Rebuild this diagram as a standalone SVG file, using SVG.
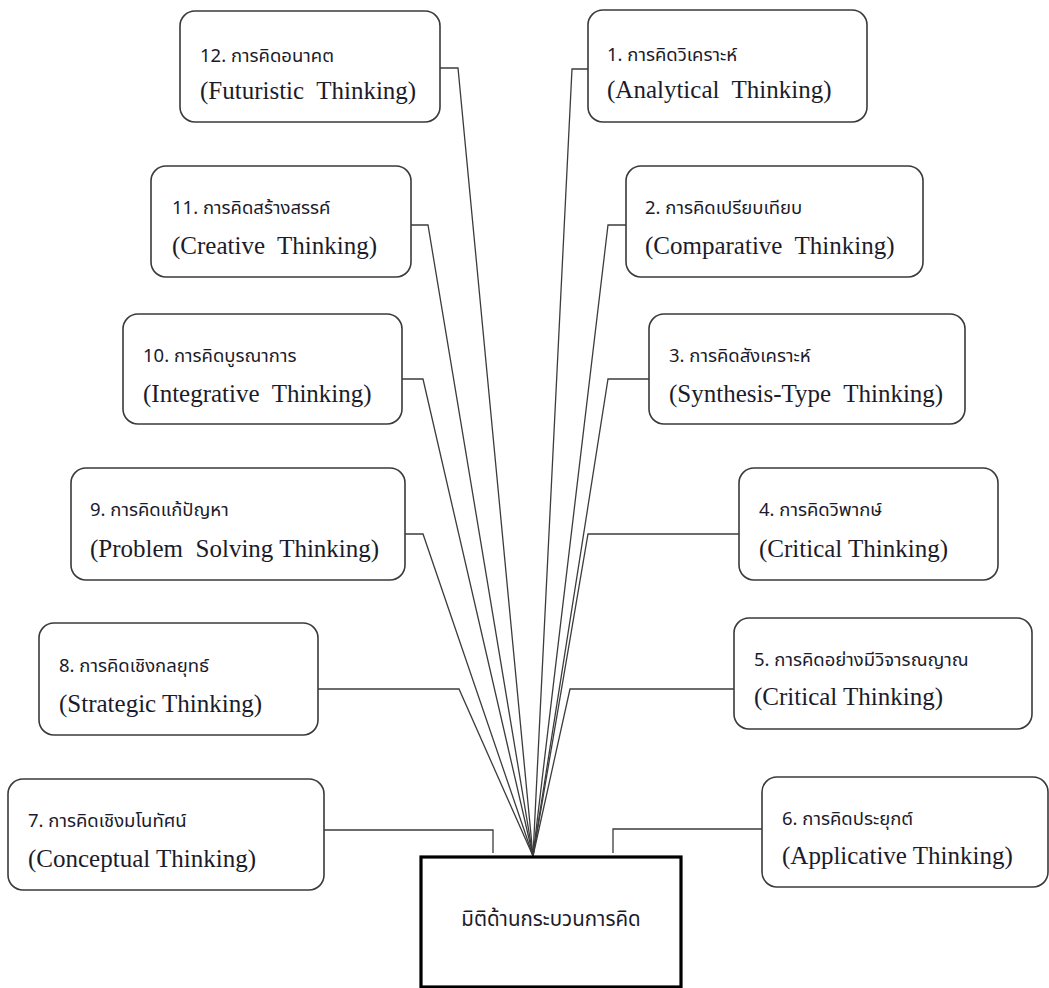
<svg xmlns="http://www.w3.org/2000/svg" width="1049" height="988" viewBox="0 0 1049 988">
<style>
.box{fill:#fff;stroke:#3a3a3a;stroke-width:1.6}
.main{fill:#fff;stroke:#000;stroke-width:3.2}
.th{font-family:"Noto Sans Thai","Noto Serif Thai","Liberation Serif","DejaVu Sans",sans-serif;font-size:18.5px;fill:#1b1b2b}
.en{font-family:"Liberation Serif","Times New Roman",serif;font-size:25px;fill:#1b1b2b;white-space:pre}
.con{fill:none;stroke:#3c3c3c;stroke-width:1.3}
</style>
<rect width="1049" height="988" fill="#fff"/>
<g id="connectors">
<path class="con" d="M440,68 H458 L533,856"/>
<path class="con" d="M411,225 H428 L533,856"/>
<path class="con" d="M402,379 H423 L533,856"/>
<path class="con" d="M405,534 H423 L533,856"/>
<path class="con" d="M318,689 H459 L533,856"/>
<path class="con" d="M324,830 H493 V853"/>
<path class="con" d="M588,69 H572 L533,856"/>
<path class="con" d="M626,225 H608 L533,856"/>
<path class="con" d="M649,379 H608 L533,856"/>
<path class="con" d="M739,534 H588 L533,856"/>
<path class="con" d="M734,689 H570 L533,856"/>
<path class="con" d="M762,829 H613 V853"/>
</g>
<g id="n12"><rect class="box" x="180" y="11" width="260" height="111" rx="15"/>
<text class="th" x="200" y="62">12. การคิดอนาคต</text>
<text class="en" x="200" y="99">(Futuristic  Thinking)</text></g>
<g id="n11"><rect class="box" x="151" y="166" width="260" height="111" rx="15"/>
<text class="th" x="172" y="214">11. การคิดสร้างสรรค์</text>
<text class="en" x="172" y="254">(Creative  Thinking)</text></g>
<g id="n10"><rect class="box" x="123" y="314" width="279" height="110" rx="15"/>
<text class="th" x="143" y="362">10. การคิดบูรณาการ</text>
<text class="en" x="143" y="402">(Integrative  Thinking)</text></g>
<g id="n9"><rect class="box" x="71" y="468" width="334" height="112" rx="15"/>
<text class="th" x="90" y="516">9. การคิดแก้ปัญหา</text>
<text class="en" x="90" y="557">(Problem  Solving Thinking)</text></g>
<g id="n8"><rect class="box" x="39" y="623" width="279" height="112" rx="15"/>
<text class="th" x="59" y="672">8. การคิดเชิงกลยุทธ์</text>
<text class="en" x="59" y="712">(Strategic Thinking)</text></g>
<g id="n7"><rect class="box" x="8" y="779" width="316" height="111" rx="15"/>
<text class="th" x="28" y="827">7. การคิดเชิงมโนทัศน์</text>
<text class="en" x="28" y="867">(Conceptual Thinking)</text></g>
<g id="n1"><rect class="box" x="588" y="10" width="279" height="112" rx="15"/>
<text class="th" x="607" y="61">1. การคิดวิเคราะห์</text>
<text class="en" x="607" y="98">(Analytical  Thinking)</text></g>
<g id="n2"><rect class="box" x="626" y="166" width="297" height="111" rx="15"/>
<text class="th" x="645" y="214">2. การคิดเปรียบเทียบ</text>
<text class="en" x="645" y="254">(Comparative  Thinking)</text></g>
<g id="n3"><rect class="box" x="649" y="314" width="316" height="110" rx="15"/>
<text class="th" x="669" y="362">3. การคิดสังเคราะห์</text>
<text class="en" x="669" y="402">(Synthesis-Type  Thinking)</text></g>
<g id="n4"><rect class="box" x="739" y="468" width="259" height="112" rx="15"/>
<text class="th" x="759" y="516">4. การคิดวิพากษ์</text>
<text class="en" x="759" y="557">(Critical Thinking)</text></g>
<g id="n5"><rect class="box" x="734" y="618" width="298" height="111" rx="15"/>
<text class="th" x="754" y="666">5. การคิดอย่างมีวิจารณญาณ</text>
<text class="en" x="754" y="705">(Critical Thinking)</text></g>
<g id="n6"><rect class="box" x="762" y="777" width="286" height="110" rx="15"/>
<text class="th" x="782" y="825">6. การคิดประยุกต์</text>
<text class="en" x="782" y="864">(Applicative Thinking)</text></g>
<g id="main"><rect class="main" x="421" y="857" width="260" height="130"/>
<text class="th" x="551" y="926" text-anchor="middle" style="font-size:20.5px">มิติด้านกระบวนการคิด</text></g>
</svg>
